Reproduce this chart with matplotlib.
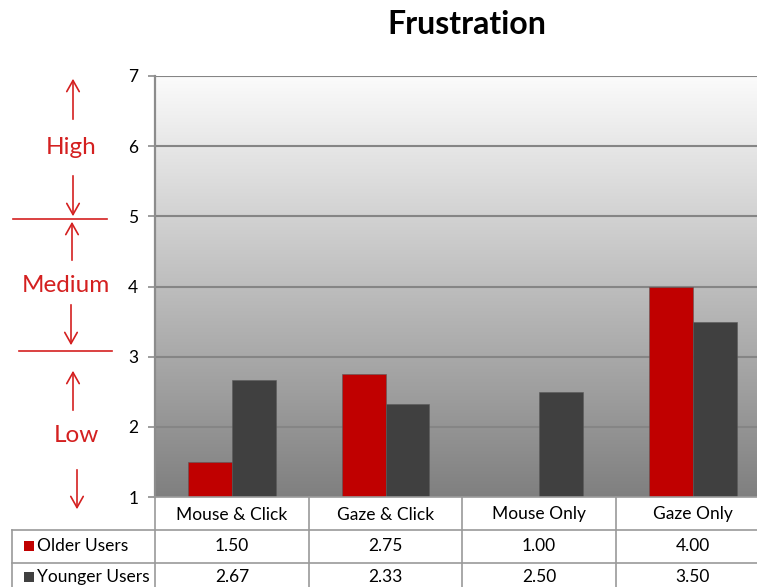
import numpy as np
import matplotlib
matplotlib.use("Agg")
import matplotlib.pyplot as plt
from matplotlib.lines import Line2D
from matplotlib.patches import Rectangle, FancyArrowPatch

plt.rcParams['font.family'] = ['Lato', 'DejaVu Sans']

# Data
categories = ["Mouse & Click", "Gaze & Click", "Mouse Only", "Gaze Only"]
series_names = ["Older Users", "Younger Users"]
older = [1.50, 2.75, 1.00, 4.00]
younger = [2.67, 2.33, 2.50, 3.50]
series_colors = ["#c00000", "#404040"]
yticks = [1, 2, 3, 4, 5, 6, 7]

W, H = 757, 587
fig = plt.figure(figsize=(W / 100, H / 100), dpi=100)

def fx(px):
    return px / W

def fy(py):
    return 1 - py / H

# Plot area (extends slightly past the right edge of the figure)
ax_left, ax_right, ax_top, ax_bottom = 155, 770, 76, 497
ax = fig.add_axes([fx(ax_left), fy(ax_bottom), fx(ax_right - ax_left), fy(ax_top) - fy(ax_bottom)])

n = len(categories)

# Vertical gradient background: light at the top, mid-grey at the bottom
grad = np.linspace(0, 1, 256).reshape(-1, 1)
top_c = np.array([0.985, 0.985, 0.985])
bot_c = np.array([0.50, 0.50, 0.50])
img = top_c[None, None, :] * (1 - grad[:, :, None]) + bot_c[None, None, :] * grad[:, :, None]
ax.imshow(img, extent=[0, n, 1, 7], origin="upper", aspect='auto', zorder=0)
ax.set_xlim(0, n)
ax.set_ylim(1, 7)

# Gridlines
for t in yticks:
    ax.axhline(t, color="#858585", lw=1.5, zorder=1)

# Bars
x = np.arange(n) + 0.5
bw = 0.285
base = 1
for vals, off, col in [(older, -bw / 2, series_colors[0]), (younger, bw / 2, series_colors[1])]:
    heights = [v - base for v in vals]
    ax.bar(x + off, heights, width=bw, bottom=base, color=col, zorder=2,
           edgecolor="#5a5a5a", linewidth=0.4)

ax.set_xticks([])
ax.set_yticks(yticks)
ax.set_yticklabels([str(t) for t in yticks], fontsize=12.5)
ax.tick_params(axis='y', length=5, color="#8c8c8c", width=1.2, pad=7)
for s in ["top", "right", "bottom"]:
    ax.spines[s].set_visible(False)
ax.spines["left"].set_color("#8c8c8c")
ax.spines["left"].set_linewidth(1.6)

# Title
fig.text(fx(467), fy(25), "Frustration", ha="center", va="center",
         fontsize=23, fontweight="bold", color="black")

# Data table below the plot
line_c = "#9a9a9a"
col_edges = [155, 309, 462, 616, 770]
row_edges = [497, 530, 563, 596]
tbl_left = 12

def hline(y, x0, x1, color=line_c):
    fig.add_artist(Line2D([fx(x0), fx(x1)], [fy(y), fy(y)], color=color, lw=1.2))

def vline(xp, y0, y1):
    fig.add_artist(Line2D([fx(xp), fx(xp)], [fy(y0), fy(y1)], color=line_c, lw=1.2))

hline(row_edges[0], col_edges[0], col_edges[-1])
for r in row_edges[1:]:
    hline(r, tbl_left, col_edges[-1])
for c in col_edges:
    vline(c, row_edges[0], row_edges[-1])
vline(tbl_left, row_edges[1], row_edges[-1])

for i, cat in enumerate(categories):
    cx = (col_edges[i] + col_edges[i + 1]) / 2
    fig.text(fx(cx), fy((row_edges[0] + row_edges[1]) / 2 + 1), cat,
             ha="center", va="center", fontsize=12.5)

row_centers = [546, 577]
for name, vals, col, cy in zip(series_names, [older, younger], series_colors, row_centers):
    fig.add_artist(Rectangle((fx(24), fy(cy + 5)), fx(10), fy(cy - 5) - fy(cy + 5),
                             facecolor=col, edgecolor="none"))
    fig.text(fx(37), fy(cy), name, ha="left", va="center", fontsize=12.5)
    for i, v in enumerate(vals):
        cx = (col_edges[i] + col_edges[i + 1]) / 2
        fig.text(fx(cx), fy(cy), f"{v:.2f}", ha="center", va="center", fontsize=12.5)

# Frustration level bands on the left
red = "#d42020"

def arrow(x0, y0, x1, y1):
    fig.add_artist(FancyArrowPatch(
        (fx(x0), fy(y0)), (fx(x1), fy(y1)), transform=fig.transFigure,
        arrowstyle="->,head_length=8,head_width=4.5", color=red, lw=1.2,
        mutation_scale=1))

arrow(73, 122, 73, 76)
fig.text(fx(71), fy(148), "High", ha="center", va="center", fontsize=17.5, color=red)
arrow(73, 173, 73, 219)
hline(219, 13, 107, color=red)
arrow(72, 263, 72, 219)
fig.text(fx(66), fy(286), "Medium", ha="center", va="center", fontsize=17.5, color=red)
arrow(71, 302, 71, 348)
hline(351, 19, 112, color=red)
arrow(73, 413, 73, 368)
fig.text(fx(76), fy(436), "Low", ha="center", va="center", fontsize=17.5, color=red)
arrow(77, 467, 77, 512)

fig.savefig("out.png", dpi=100)
